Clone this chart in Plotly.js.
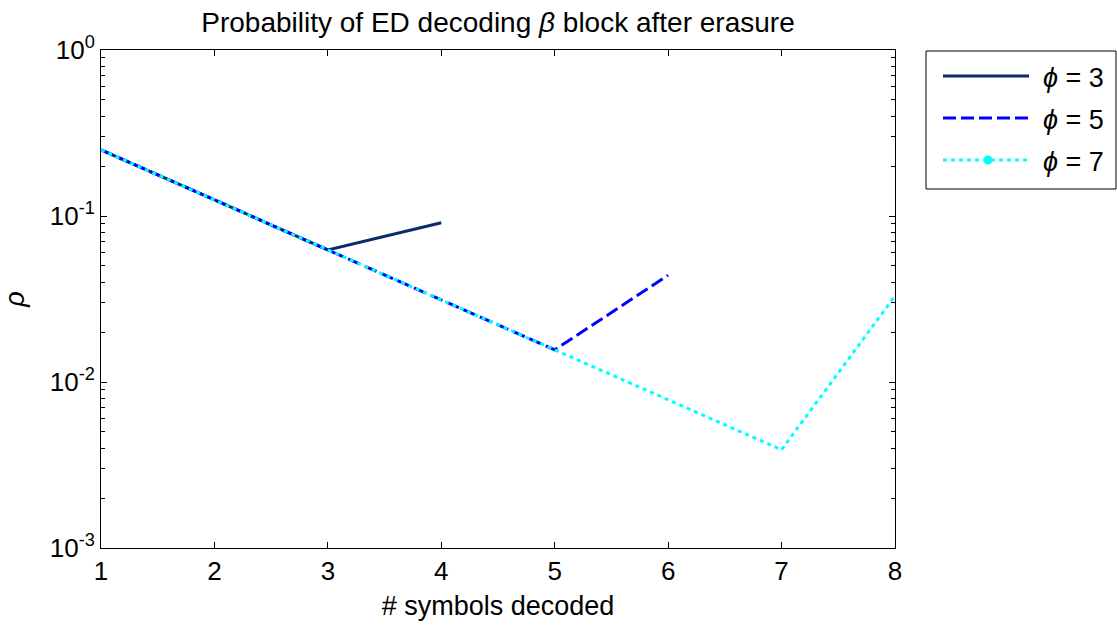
<!DOCTYPE html>
<html>
<head>
<meta charset="utf-8">
<script src="https://cdn.plot.ly/plotly-3.0.1.min.js"></script>
<style>
  html, body { margin: 0; padding: 0; background: #fff; }
  #chart { width: 1117px; height: 628px; }
</style>
</head>
<body>
<div id="chart"></div>
<script>
// Number of symbols decoded
const symbols3 = [1, 2, 3, 4];
const symbols5 = [1, 2, 3, 4, 5, 6];
const symbols7 = [1, 2, 3, 4, 5, 6, 7, 8];

// Probability of ED decoding the beta block after erasure, per phi
const rhoPhi3 = [0.25, 0.125, 0.0625, 0.091];
const rhoPhi5 = [0.25, 0.125, 0.0625, 0.03125, 0.015625, 0.044];
const rhoPhi7 = [0.25, 0.125, 0.0625, 0.03125, 0.015625, 0.0078125, 0.00390625, 0.033];

// Series labels
const seriesNames = ['<i>ϕ</i> = 3', '<i>ϕ</i> = 5', '<i>ϕ</i> = 7'];

// Log-axis decade ticks and their labels
const yTickVals = [0.001, 0.01, 0.1, 1];
const yTickText = ['10<sup>-3</sup>', '10<sup>-2</sup>', '10<sup>-1</sup>', '10<sup>0</sup>'];

// Minor ticks at 2..9 within each decade
const yMinorVals = [];
for (let e = -3; e < 0; e++) {
  for (let m = 2; m <= 9; m++) yMinorVals.push(m * Math.pow(10, e));
}

const FONT = 'Liberation Sans, Arial, sans-serif';
const styles = [
  { color: '#0c2a6a', width: 3, dash: 'solid' },
  { color: '#0000ff', width: 3, dash: '13px,5px' },
  { color: '#00ffff', width: 3, dash: '4px,4px' }
];

const traces = [
  { x: symbols3, y: rhoPhi3, type: 'scatter', mode: 'lines', name: seriesNames[0], line: styles[0] },
  { x: symbols5, y: rhoPhi5, type: 'scatter', mode: 'lines', name: seriesNames[1], line: styles[1] },
  { x: symbols7, y: rhoPhi7, type: 'scatter', mode: 'lines', name: seriesNames[2], line: styles[2] }
];

// Plot area in pixels, used to place the boxed legend beside it
const W = 1117, H = 628;
const M = { l: 101, r: 222, t: 50, b: 80 };
const PW = W - M.l - M.r, PH = H - M.t - M.b;
const px = v => (v - M.l) / PW;
const py = v => (H - M.b - v) / PH;

const legendBox = { x0: 926, x1: 1116, y0: 51, y1: 189 };
const legendRows = [76, 118, 160];
const sampleX = [943, 1029];
const textX = 1041;

const shapes = [{
  type: 'rect', xref: 'paper', yref: 'paper',
  x0: px(legendBox.x0), x1: px(legendBox.x1), y0: py(legendBox.y1), y1: py(legendBox.y0),
  line: { color: '#000', width: 1 }, fillcolor: '#fff', layer: 'below'
}];
const annotations = [];
legendRows.forEach((ry, i) => {
  shapes.push({
    type: 'line', xref: 'paper', yref: 'paper',
    x0: px(sampleX[0]), x1: px(sampleX[1]), y0: py(ry), y1: py(ry),
    line: { color: styles[i].color, width: 3, dash: styles[i].dash }
  });
  annotations.push({
    xref: 'paper', yref: 'paper', x: px(textX), y: py(ry + 2),
    xanchor: 'left', yanchor: 'middle', showarrow: false,
    text: seriesNames[i], font: { family: FONT, size: 27, color: '#000' }
  });
});
// dot marker on the phi = 7 sample
const mx = (sampleX[0] + sampleX[1]) / 2 + 2, my = legendRows[2];
shapes.push({
  type: 'circle', xref: 'paper', yref: 'paper',
  x0: px(mx - 4.5), x1: px(mx + 4.5), y0: py(my + 4.5), y1: py(my - 4.5),
  line: { color: '#00ffff', width: 0 }, fillcolor: '#00ffff'
});

const axisCommon = {
  showline: true, linecolor: '#000', linewidth: 1,
  mirror: 'allticks', ticks: 'inside', ticklen: 6, tickcolor: '#000', tickwidth: 1,
  showgrid: false, zeroline: false, automargin: false,
  tickfont: { family: FONT, size: 26, color: '#000' }
};

const layout = {
  width: W, height: H,
  margin: M,
  paper_bgcolor: '#fff', plot_bgcolor: '#fff',
  font: { family: FONT, color: '#000' },
  showlegend: false,
  title: {
    text: 'Probability of ED decoding <i>β</i> block after erasure',
    font: { family: FONT, size: 28, color: '#000' },
    xref: 'paper', x: 0.5, xanchor: 'center',
    yref: 'container', y: 1 - 22 / H, yanchor: 'middle'
  },
  xaxis: Object.assign({}, axisCommon, {
    range: [1, 8], dtick: 1, tick0: 1,
    title: { text: '# symbols decoded', font: { family: FONT, size: 27, color: '#000' }, standoff: 10 }
  }),
  yaxis: Object.assign({}, axisCommon, {
    type: 'log', range: [-3, 0],
    tickmode: 'array', tickvals: yTickVals, ticktext: yTickText,
    minor: { tickmode: 'array', tickvals: yMinorVals, ticks: 'inside', ticklen: 4, tickcolor: '#000', showgrid: false },
    title: { text: '<i>ρ</i>', font: { family: FONT, size: 27, color: '#000' }, standoff: 22 }
  }),
  shapes: shapes,
  annotations: annotations
};

Plotly.newPlot('chart', traces, layout, { displayModeBar: false, staticPlot: true });
</script>
</body>
</html>
